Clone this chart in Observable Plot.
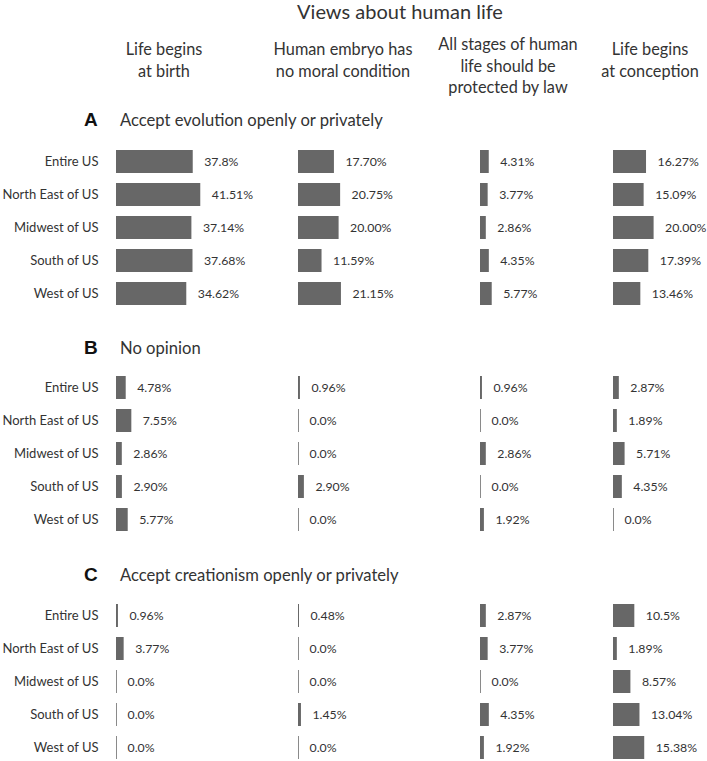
<!DOCTYPE html>
<html><head><meta charset="utf-8">
<script src="https://cdn.jsdelivr.net/npm/d3@7"></script>
<script src="https://cdn.jsdelivr.net/npm/@observablehq/plot@0.6"></script>
<style>
body{margin:0;background:#fff;width:707px;height:761px;overflow:hidden;position:relative;font-family:Lato,"Open Sans",sans-serif;color:#333}
.abs{position:absolute;white-space:nowrap}
svg{max-width:none!important;overflow:visible}
</style></head><body>
<script>
const regions = ["Entire US","North East of US","Midwest of US","South of US","West of US"];
const views = ["Life begins\nat birth","Human embryo has\nno moral condition","All stages of human\nlife should be\nprotected by law","Life begins\nat conception"];
const sectionLetters = ["A","B","C"];
const sectionTitles = ["Accept evolution openly or privately","No opinion","Accept creationism openly or privately"];
const evolutionBirth = ["37.8","41.51","37.14","37.68","34.62"];
const evolutionEmbryo = ["17.70","20.75","20.00","11.59","21.15"];
const evolutionLaw = ["4.31","3.77","2.86","4.35","5.77"];
const evolutionConception = ["16.27","15.09","20.00","17.39","13.46"];
const noOpinionBirth = ["4.78","7.55","2.86","2.90","5.77"];
const noOpinionEmbryo = ["0.96","0.0","0.0","2.90","0.0"];
const noOpinionLaw = ["0.96","0.0","2.86","0.0","1.92"];
const noOpinionConception = ["2.87","1.89","5.71","4.35","0.0"];
const creationBirth = ["0.96","3.77","0.0","0.0","0.0"];
const creationEmbryo = ["0.48","0.0","0.0","1.45","0.0"];
const creationLaw = ["2.87","3.77","0.0","4.35","1.92"];
const creationConception = ["10.5","1.89","8.57","13.04","15.38"];
const grid = [
  [evolutionBirth, evolutionEmbryo, evolutionLaw, evolutionConception],
  [noOpinionBirth, noOpinionEmbryo, noOpinionLaw, noOpinionConception],
  [creationBirth, creationEmbryo, creationLaw, creationConception]
];

const FONT = "Lato";
const colStarts = [116, 298, 480, 613];
const headerCenters = [164, 343, 508, 650];
const sectionTops = [144, 370, 598];
const sectionHeadY = [120, 348, 575];
const step = 33.5;

function add(el, css, text){ const d=document.createElement("div"); d.className="abs"; Object.assign(d.style, css); if(text!=null) d.textContent=text; if(el) d.appendChild(el); document.body.appendChild(d); return d; }

add(null,{left:"100px",width:"600px",textAlign:"center",top:"1px",fontSize:"20px",lineHeight:"21px"},"Views about human life");
views.forEach((v,i)=>{
  const lines = v.split("\n").length;
  add(null,{left:(headerCenters[i]-110)+"px",width:"220px",textAlign:"center",top:(lines>2?33:38)+"px",fontSize:"16.3px",lineHeight:"21.5px",whiteSpace:"pre-line"},v);
});
sectionLetters.forEach((L,i)=>{
  add(null,{left:"84px",top:(sectionHeadY[i]-12)+"px",fontSize:"19px",fontWeight:"bold",fontFamily:"Liberation Sans, Arial, sans-serif",lineHeight:"24px",color:"#111"},L);
  add(null,{left:"120px",top:(sectionHeadY[i]-12)+"px",fontSize:"16.6px",lineHeight:"24px"},sectionTitles[i]);
});

function cell(vals, showAxis){
  const data = regions.map((r,i)=>({region:r, value:+vals[i], label: vals[i]+"%"}));
  const ml = showAxis ? 116 : 4;
  const plot = Plot.plot({
    width: ml + 101.5 + 70, height: step*5, marginLeft: ml, marginRight: 70, marginTop:0, marginBottom:0,
    x: {domain:[0,50], axis:null},
    y: {domain: regions, paddingInner:0.3, paddingOuter:0.15, axis: showAxis ? "left" : null, tickSize:0, tickPadding:18, label:null},
    style: {fontFamily:FONT, fontSize:"13px", color:"#333", background:"transparent", overflow:"visible"},
    marks: [
      Plot.tickX(data, {x:0, y:"region", stroke:"#8a8a8a", strokeWidth:1}),
      Plot.barX(data, {x:"value", y:"region", fill:"#676767"}),
      Plot.text(data, {x:"value", y:"region", text:"label", dx:11, textAnchor:"start", fill:"#333", fontSize:12.3})
    ]
  });
  return {plot, ml};
}
grid.forEach((row,s)=>row.forEach((vals,c)=>{
  const {plot, ml} = cell(vals, c===0);
  add(plot,{left:(colStarts[c]-ml)+"px", top:sectionTops[s]+"px"});
}));
</script>
</body></html>
